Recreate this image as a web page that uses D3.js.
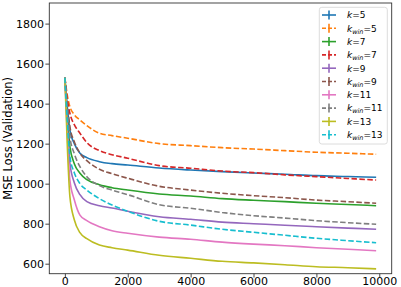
<!DOCTYPE html>
<html>
<head>
<meta charset="utf-8">
<script src="https://cdn.jsdelivr.net/npm/d3@7"></script>
<style>
  body { margin: 0; background: #fff; }
  svg { display: block; font-family: "DejaVu Sans", sans-serif; }
</style>
</head>
<body>
<script>
const epochs = [0, 80, 160, 300, 480, 700, 1100, 1500, 2000, 3000, 4000, 5000, 6000, 7000, 8000, 9000, 9900];

const k5     = [1530, 1380, 1268, 1200, 1152, 1130, 1110, 1100, 1093, 1078, 1068, 1060, 1053, 1047, 1040, 1036, 1032];
const kwin5  = [1530, 1440, 1385, 1345, 1318, 1290, 1252, 1240, 1227, 1200, 1190, 1180, 1173, 1165, 1157, 1152, 1147];
const k7     = [1530, 1340, 1185, 1100, 1052, 1020, 995, 980, 968, 948, 938, 925, 917, 910, 902, 896, 890];
const kwin7  = [1530, 1420, 1352, 1295, 1252, 1205, 1165, 1145, 1127, 1090, 1077, 1063, 1055, 1044, 1035, 1026, 1018];
const k9     = [1530, 1290, 1102, 1005, 945, 910, 890, 878, 862, 835, 822, 808, 800, 792, 785, 778, 772];
const kwin9  = [1530, 1390, 1285, 1210, 1152, 1115, 1072, 1050, 1027, 987, 968, 952, 940, 930, 918, 910, 902];
const k11    = [1530, 1240, 1018, 920, 843, 815, 785, 765, 752, 733, 722, 708, 698, 690, 680, 672, 665];
const kwin11 = [1530, 1370, 1235, 1150, 1085, 1035, 990, 968, 945, 895, 877, 856, 840, 828, 815, 805, 797];
const k13    = [1530, 1180, 935, 820, 755, 725, 693, 680, 668, 642, 627, 612, 604, 595, 585, 580, 574];
const kwin13 = [1530, 1310, 1135, 1055, 1000, 968, 925, 893, 862, 812, 793, 772, 757, 742, 727, 715, 705];

const seriesNames = ["k=5", "kwin=5", "k=7", "kwin=7", "k=9", "kwin=9", "k=11", "kwin=11", "k=13", "kwin=13"];
const seriesValues = [k5, kwin5, k7, kwin7, k9, kwin9, k11, kwin11, k13, kwin13];
const colors = ["#1f77b4", "#ff7f0e", "#2ca02c", "#d62728", "#9467bd", "#8c564b", "#e377c2", "#7f7f7f", "#bcbd22", "#17becf"];

const xTicks = [0, 2000, 4000, 6000, 8000, 10000];
const yTicks = [600, 800, 1000, 1200, 1400, 1600, 1800];

const W = 401, H = 287;
const margin = {left: 49.3, right: 9.3, top: 3, bottom: 13.3};

const svg = d3.select("body").append("svg").attr("width", W).attr("height", H);

const x = d3.scaleLinear().domain([-495, 10395]).range([margin.left, W - margin.right]);
const y = d3.scaleLinear().domain([550, 1903]).range([H - margin.bottom, margin.top]);

const line = d3.line()
  .x((d, i) => x(epochs[i]))
  .y(d => y(d))
  .curve(d3.curveMonotoneX);

const plot = svg.append("g");
seriesValues.forEach((vals, i) => {
  plot.append("path")
    .attr("d", line(vals))
    .attr("fill", "none")
    .attr("stroke", colors[i])
    .attr("stroke-width", 1.6)
    .attr("stroke-dasharray", seriesNames[i].startsWith("kwin") ? "5.5,2.4" : null);
});

// axes
const xAxis = svg.append("g")
  .attr("transform", `translate(0,${H - margin.bottom})`)
  .call(d3.axisBottom(x).tickValues(xTicks).tickSize(3.9).tickPadding(-0.2).tickFormat(d3.format("d")));
const yAxis = svg.append("g")
  .attr("transform", `translate(${margin.left},0)`)
  .call(d3.axisLeft(y).tickValues(yTicks).tickSize(3.9).tickPadding(1.5).tickFormat(d3.format("d")));

[xAxis, yAxis].forEach(a => {
  a.select(".domain").remove();
  a.selectAll("line").attr("stroke", "#333").attr("stroke-width", 0.9);
  a.selectAll("text").attr("font-family", "DejaVu Sans").attr("font-size", 11).attr("fill", "#000");
});

// frame
svg.append("rect")
  .attr("x", margin.left).attr("y", margin.top)
  .attr("width", W - margin.left - margin.right)
  .attr("height", H - margin.top - margin.bottom)
  .attr("fill", "none").attr("stroke", "#333").attr("stroke-width", 0.9);

svg.append("text")
  .attr("transform", `translate(12,${(margin.top + H - margin.bottom) / 2}) rotate(-90)`)
  .attr("text-anchor", "middle")
  .attr("font-size", 11.5)
  .text("MSE Loss (Validation)");

// legend
const lg = svg.append("g");
lg.append("rect")
  .attr("x", 319.3).attr("y", 7.3).attr("width", 68).attr("height", 136.7)
  .attr("rx", 2.5)
  .attr("fill", "#fff").attr("fill-opacity", 0.8)
  .attr("stroke", "#d8d8d8").attr("stroke-width", 0.9);

seriesNames.forEach((name, i) => {
  const cy = 15 + i * 13.3;
  const dashed = name.startsWith("kwin");
  const g = lg.append("g");
  g.append("line")
    .attr("x1", 322).attr("x2", 336).attr("y1", cy).attr("y2", cy)
    .attr("stroke", colors[i]).attr("stroke-width", 1.6)
    .attr("stroke-dasharray", dashed ? "4,2" : null);
  g.append("line")
    .attr("x1", 329).attr("x2", 329).attr("y1", cy - 4.5).attr("y2", cy + 4.5)
    .attr("stroke", colors[i]).attr("stroke-width", 1.6);
  const t = g.append("text").attr("x", 347).attr("y", cy + 3.3).attr("font-size", 9);
  const num = name.split("=")[1];
  t.append("tspan").attr("font-style", "italic").text("k");
  if (dashed) {
    t.append("tspan").attr("font-style", "italic").attr("font-size", 6.5).attr("dy", 2).text("win");
    t.append("tspan").attr("dy", -2).text("=" + num);
  } else {
    t.append("tspan").text("=" + num);
  }
});
</script>
</body>
</html>
